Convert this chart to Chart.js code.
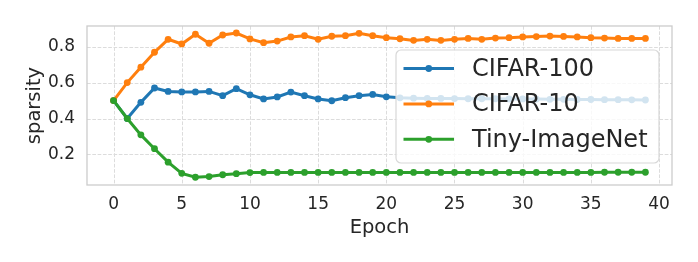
<!DOCTYPE html>
<html>
<head>
<meta charset="utf-8">
<script src="https://cdn.jsdelivr.net/npm/chart.js@4.4.0/dist/chart.umd.min.js"></script>
<style>
html,body{margin:0;padding:0;background:#fff;}
canvas{display:block;}
</style>
</head>
<body>
<canvas id="c" width="698" height="262"></canvas>
<script>
const epochs = Array.from({length: 40}, (_, i) => i);
const seriesNames = ['CIFAR-100', 'CIFAR-10', 'Tiny-ImageNet'];
const seriesColors = ['#1f77b4', '#ff7f0e', '#2ca02c'];
const cifar100 = [0.500,0.400,0.490,0.570,0.551,0.548,0.548,0.551,0.527,0.566,
                  0.532,0.509,0.520,0.547,0.527,0.509,0.499,0.516,0.527,0.534,
                  0.521,0.515,0.513,0.512,0.512,0.511,0.510,0.510,0.510,0.509,
                  0.509,0.508,0.507,0.507,0.506,0.506,0.505,0.505,0.504,0.503];
const cifar10 = [0.500,0.600,0.686,0.769,0.841,0.815,0.869,0.819,0.865,0.876,
                 0.843,0.822,0.831,0.854,0.861,0.841,0.858,0.861,0.874,0.861,
                 0.850,0.844,0.835,0.841,0.835,0.841,0.846,0.841,0.848,0.850,
                 0.854,0.856,0.859,0.857,0.854,0.850,0.848,0.846,0.846,0.846];
const tinyImageNet = [0.500,0.400,0.309,0.232,0.157,0.095,0.073,0.077,0.087,0.093,
                      0.099,0.100,0.100,0.100,0.100,0.100,0.100,0.100,0.100,0.100,
                      0.100,0.100,0.100,0.100,0.100,0.100,0.100,0.100,0.100,0.100,
                      0.100,0.100,0.100,0.100,0.100,0.100,0.101,0.101,0.101,0.101];
const xTicks = [0, 5, 10, 15, 20, 25, 30, 35, 40];
const yTicks = [0.2, 0.4, 0.6, 0.8];
const xLabel = 'Epoch';
const yLabel = 'sparsity';

const allSeries = [cifar100, cifar10, tinyImageNet];
const FONT = "'DejaVu Sans', sans-serif";
const TXT = '#262626';

const datasets = allSeries.map((vals, i) => ({
  label: seriesNames[i],
  data: vals.map((v, j) => ({x: epochs[j], y: v})),
  borderColor: seriesColors[i],
  backgroundColor: seriesColors[i],
  pointBackgroundColor: seriesColors[i],
  pointBorderColor: seriesColors[i],
  borderWidth: 3,
  pointRadius: 3.4,
  pointBorderWidth: 0,
  tension: 0,
  order: 3 - i
}));

const frameAndLegend = {
  id: 'frameAndLegend',
  beforeDatasetsDraw(chart) {
    const {ctx, chartArea: a, scales} = chart;
    ctx.save();
    ctx.strokeStyle = '#dcdcdc';
    ctx.lineWidth = 1;
    ctx.setLineDash([3.7, 1.6]);
    xTicks.forEach(v => {
      const px = Math.round(scales.x.getPixelForValue(v)) + 0.5;
      ctx.beginPath(); ctx.moveTo(px, a.top); ctx.lineTo(px, a.bottom); ctx.stroke();
    });
    yTicks.forEach(v => {
      const py = Math.round(scales.y.getPixelForValue(v)) + 0.5;
      ctx.beginPath(); ctx.moveTo(a.left, py); ctx.lineTo(a.right, py); ctx.stroke();
    });
    ctx.setLineDash([]);
    ctx.strokeStyle = '#cccccc';
    ctx.lineWidth = 1.3;
    ctx.strokeRect(a.left, a.top, a.right - a.left, a.bottom - a.top);
    ctx.restore();
  },
  afterDraw(chart) {
    const {ctx, chartArea: a} = chart;
    const bw = 263, bh = 113;
    const bx = a.right - 13 - bw, by = a.top + 24;
    ctx.save();
    ctx.beginPath();
    ctx.roundRect(bx, by, bw, bh, 5);
    ctx.fillStyle = 'rgba(255,255,255,0.8)';
    ctx.fill();
    ctx.strokeStyle = '#d8d8d8';
    ctx.lineWidth = 1.2;
    ctx.stroke();
    const rowH = 35.4;
    seriesNames.forEach((name, i) => {
      const cy = by + 18.5 + i * rowH;
      const x0 = bx + 7.5, x1 = bx + 58;
      ctx.strokeStyle = seriesColors[i];
      ctx.lineWidth = 3;
      ctx.beginPath();
      ctx.moveTo(x0, cy); ctx.lineTo(x1, cy); ctx.stroke();
      ctx.fillStyle = seriesColors[i];
      ctx.beginPath();
      ctx.arc((x0 + x1) / 2, cy, 3.4, 0, Math.PI * 2);
      ctx.fill();
      ctx.fillStyle = TXT;
      ctx.font = "24px " + FONT;
      ctx.textBaseline = 'middle';
      ctx.textAlign = 'left';
      ctx.fillText(name, bx + 76, cy + 1);
    });
    ctx.restore();
  }
};

new Chart(document.getElementById('c'), {
  type: 'line',
  data: {datasets},
  options: {
    responsive: false,
    animation: false,
    events: [],
    layout: {padding: {left: 0, top: 26, right: 26, bottom: 0}},
    plugins: {legend: {display: false}, tooltip: {enabled: false}},
    scales: {
      x: {
        type: 'linear',
        min: -1.95,
        max: 40.95,
        afterBuildTicks(s) { s.ticks = xTicks.map(v => ({value: v})); },
        afterFit(s) { s.height = 77; },
        grid: {display: false, drawTicks: false},
        border: {display: false},
        ticks: {color: TXT, font: {family: FONT, size: 17}, padding: 9,
                callback: v => String(v), maxRotation: 0, autoSkip: false},
        title: {display: true, text: xLabel, color: TXT,
                font: {family: FONT, size: 19.5}, padding: {top: 0, bottom: 22}}
      },
      y: {
        type: 'linear',
        min: 0.03,
        max: 0.915,
        afterBuildTicks(s) { s.ticks = yTicks.map(v => ({value: v})); },
        afterFit(s) { s.width = 87; },
        grid: {display: false, drawTicks: false},
        border: {display: false},
        ticks: {color: TXT, font: {family: FONT, size: 17}, padding: 12,
                callback: v => v.toFixed(1), autoSkip: false},
        title: {display: true, text: yLabel, color: TXT,
                font: {family: FONT, size: 19.5}, padding: {top: 23, bottom: 0}}
      }
    }
  },
  plugins: [frameAndLegend]
});
</script>
</body>
</html>
